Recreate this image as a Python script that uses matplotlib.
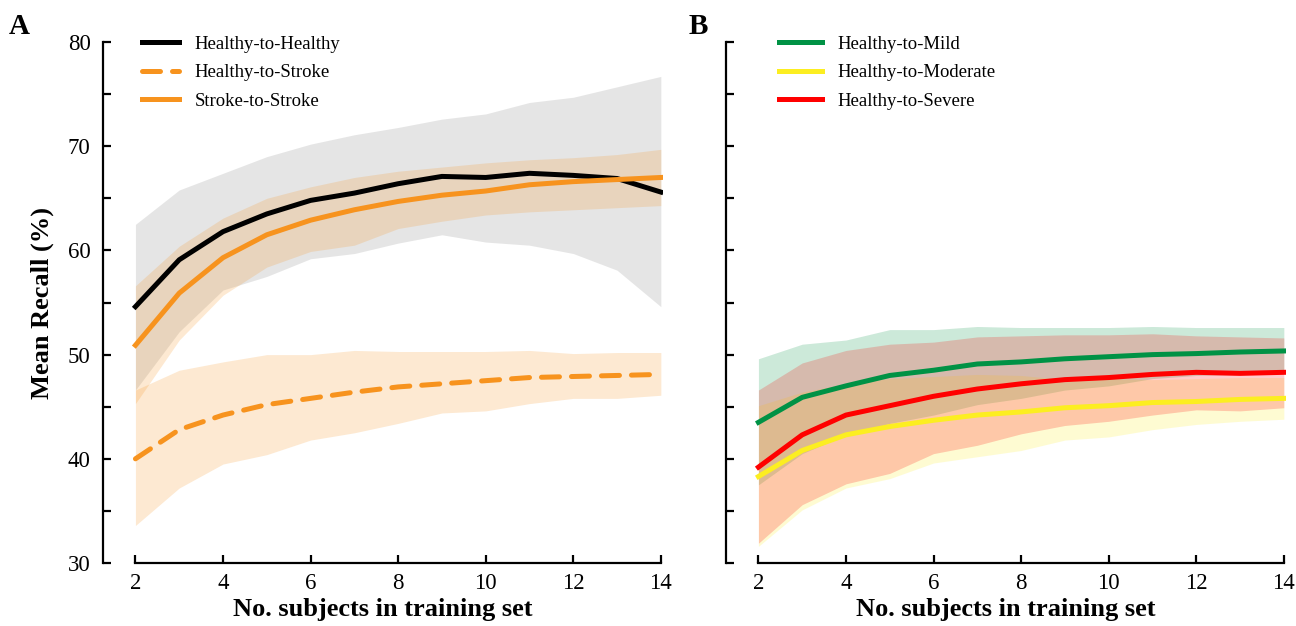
import numpy as np
import matplotlib.pyplot as plt

plt.rcParams['font.family'] = ['Liberation Serif', 'DejaVu Serif']

################################################################################
# Data (mean recall and band limits, %)
n_train = [2, 3, 4, 5, 6, 7, 8, 9, 10, 11, 12, 13, 14]

# Panel A
h2h      = [54.6, 59.1, 61.8, 63.5, 64.8, 65.5, 66.4, 67.1, 67.0, 67.4, 67.2, 66.9, 65.6]
h2h_up   = [62.5, 65.8, 67.4, 69.0, 70.2, 71.1, 71.8, 72.6, 73.1, 74.2, 74.7, 75.7, 76.7]
h2h_lo   = [46.6, 52.2, 56.2, 57.5, 59.2, 59.7, 60.7, 61.5, 60.8, 60.5, 59.7, 58.1, 54.6]
s2s      = [50.9, 55.9, 59.3, 61.5, 62.9, 63.9, 64.7, 65.3, 65.7, 66.3, 66.6, 66.8, 67.0]
s2s_up   = [56.6, 60.4, 63.1, 65.0, 66.1, 67.0, 67.6, 68.0, 68.4, 68.7, 68.9, 69.2, 69.7]
s2s_lo   = [45.3, 51.4, 55.7, 58.4, 59.9, 60.5, 62.1, 62.8, 63.4, 63.7, 63.9, 64.1, 64.3]
h2s      = [40.0, 42.8, 44.2, 45.2, 45.8, 46.4, 46.9, 47.2, 47.5, 47.8, 47.9, 48.0, 48.1]
h2s_up   = [46.6, 48.5, 49.3, 50.0, 50.0, 50.4, 50.3, 50.3, 50.3, 50.4, 50.1, 50.2, 50.2]
h2s_lo   = [33.6, 37.2, 39.5, 40.4, 41.8, 42.5, 43.4, 44.4, 44.6, 45.3, 45.8, 45.8, 46.1]

# Panel B
mild     = [43.5, 45.9, 47.0, 48.0, 48.5, 49.1, 49.3, 49.6, 49.8, 50.0, 50.1, 50.25, 50.35]
mild_up  = [49.6, 51.0, 51.4, 52.4, 52.4, 52.7, 52.6, 52.6, 52.6, 52.7, 52.6, 52.6, 52.6]
mild_lo  = [37.5, 40.5, 42.3, 43.4, 44.2, 45.2, 45.8, 46.6, 47.0, 47.7, 48.0, 48.1, 48.2]
mod      = [38.3, 40.8, 42.3, 43.1, 43.7, 44.2, 44.5, 44.9, 45.1, 45.4, 45.5, 45.7, 45.8]
mod_up   = [45.1, 46.4, 47.2, 47.7, 47.9, 48.1, 48.0, 47.6, 47.7, 47.6, 47.7, 47.8, 47.8]
mod_lo   = [31.6, 35.1, 37.2, 38.1, 39.6, 40.2, 40.8, 41.8, 42.1, 42.8, 43.3, 43.6, 43.8]
sev      = [39.2, 42.3, 44.2, 45.1, 46.0, 46.7, 47.2, 47.6, 47.8, 48.1, 48.3, 48.2, 48.3]
sev_up   = [46.6, 49.2, 50.4, 51.0, 51.2, 51.7, 51.8, 51.9, 51.9, 52.0, 51.8, 51.7, 51.6]
sev_lo   = [31.9, 35.6, 37.6, 38.6, 40.5, 41.3, 42.4, 43.2, 43.6, 44.2, 44.7, 44.6, 44.9]

orange = '#F7931E'
green  = '#009245'
yellow = '#FCEE21'
red    = '#FF0000'

fig = plt.figure(figsize=(12.96, 6.26), dpi=100)
axA = fig.add_axes([0.0795, 0.1006, 0.4321, 0.8323])
axB = fig.add_axes([0.5602, 0.1006, 0.4321, 0.8323])

# Panel A
axA.fill_between(n_train, h2h_lo, h2h_up, color='#808080', alpha=0.2, lw=0)
axA.fill_between(n_train, s2s_lo, s2s_up, color=orange, alpha=0.2, lw=0)
axA.fill_between(n_train, h2s_lo, h2s_up, color=orange, alpha=0.2, lw=0)
axA.plot(n_train, h2h, '-', color='black', lw=3.6, label='Healthy-to-Healthy')
axA.plot(n_train, h2s, '--', color=orange, lw=3.6, dashes=(3.6, 2.4),
         dash_capstyle='round', label='Healthy-to-Stroke')
axA.plot(n_train, s2s, '-', color=orange, lw=3.6, label='Stroke-to-Stroke')

# Panel B
axB.fill_between(n_train, mild_lo, mild_up, color=green, alpha=0.2, lw=0)
axB.fill_between(n_train, mod_lo, mod_up, color=yellow, alpha=0.2, lw=0)
axB.fill_between(n_train, sev_lo, sev_up, color=red, alpha=0.2, lw=0)
axB.plot(n_train, mild, '-', color=green, lw=3.6, label='Healthy-to-Mild')
axB.plot(n_train, mod, '-', color=yellow, lw=3.6, label='Healthy-to-Moderate')
axB.plot(n_train, sev, '-', color=red, lw=3.6, label='Healthy-to-Severe')

for ax in (axA, axB):
    ax.set_xlim(1.26, 14.05)
    ax.set_ylim(30, 80)
    ax.spines['top'].set_visible(False)
    ax.spines['right'].set_visible(False)
    ax.spines['left'].set_linewidth(1.6)
    ax.spines['bottom'].set_linewidth(1.6)
    ax.spines['bottom'].set_bounds(2, 14)
    ax.set_xticks(range(2, 15, 2))
    ax.set_yticks(range(30, 81, 10))
    ax.set_yticks(range(35, 80, 10), minor=True)
    ax.tick_params(axis='both', which='both', direction='in', width=1.6,
                   length=6, labelsize=16.5)
    ax.tick_params(axis='x', pad=7)
    ax.tick_params(axis='y', pad=9)
    ax.set_xlabel('No. subjects in training set', fontsize=19, fontweight='bold',
                  labelpad=3)

axA.legend(loc='upper left', bbox_to_anchor=(0.056, 1.027), frameon=False,
           fontsize=13.5, handlelength=2.0, handletextpad=0.8,
           labelspacing=0.62, borderaxespad=0)
axB.legend(loc='upper left', bbox_to_anchor=(0.081, 1.027), frameon=False,
           fontsize=13.5, handlelength=2.3, handletextpad=0.8,
           labelspacing=0.62, borderaxespad=0)

axA.set_ylabel('Mean Recall (%)', fontsize=19, fontweight='bold', labelpad=10)
axB.set_yticklabels([])

fig.text(0.007, 0.945, 'A', fontsize=21, fontweight='bold')
fig.text(0.531, 0.945, 'B', fontsize=21, fontweight='bold')

plt.savefig('out.png', dpi=100)
